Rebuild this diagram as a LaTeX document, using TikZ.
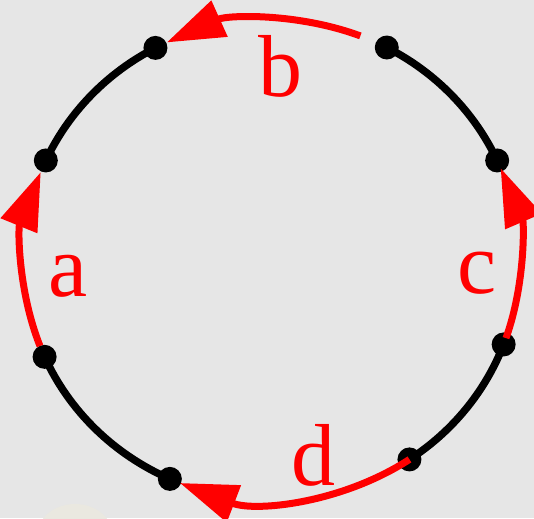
\documentclass[tikz,border=0pt]{standalone}
\usepackage{fontspec}
\setmainfont{Liberation Serif}
\usetikzlibrary{arrows.meta}
\definecolor{bg}{RGB}{230,230,230}
\definecolor{blob}{RGB}{234,232,224}
\begin{document}
\begin{tikzpicture}[x=1pt,y=1pt,
  dot/.style={circle,fill=black,inner sep=0pt,minimum size=24pt},
  blk/.style={line width=7.5pt,black},
  redarc/.style={line width=7pt,red,-{Triangle[length=58pt,width=38pt]}},
  lbl/.style={text=red,font=\fontsize{88}{88}\selectfont,anchor=base,inner sep=0pt},
  ell/.style={x radius=248,y radius=240}]
\fill[bg] (0,0) rectangle (534,518);
\begin{scope}
\clip (0,0) rectangle (534,518);
\fill[blob] (75,-18) ellipse (38 and 32);
\end{scope}
\useasboundingbox (0,0) rectangle (534,518);
\begin{scope}[shift={(271.5,258)}]
  % dot positions
  \coordinate (tl) at (117.9:248 and 240);
  \coordinate (tr) at (62.3:248 and 240);
  \coordinate (lu) at (155.5:248 and 240);
  \coordinate (ru) at (24.5:248 and 240);
  \coordinate (ll) at (203.8:248 and 240);
  \coordinate (rl) at (339.4:248 and 240);
  \coordinate (bl) at (245.8:248 and 240);
  \coordinate (br) at (303.8:248 and 240);
  % black arcs
  \draw[blk] (tl) arc[start angle=117.9,end angle=155.5,ell];
  \draw[blk] (tr) arc[start angle=62.3,end angle=24.5,ell];
  \draw[blk] (ll) arc[start angle=203.8,end angle=245.8,ell];
  \draw[blk] (rl) arc[start angle=339.4,end angle=303.8,ell];
  % dots
  \node[dot] (dtl) at (tl) {};
  \node[dot] (dtr) at (tr) {};
  \node[dot] (dlu) at (lu) {};
  \node[dot] (dru) at (ru) {};
  \node[dot] (dll) at (ll) {};
  \node[dot] (drl) at (rl) {};
  \node[dot] (dbl) at (bl) {};
  \node[dot] (dbr) at (br) {};
  % red arc start points
  \coordinate (as) at (201:248 and 240);
  \coordinate (bs) at (69:248 and 240);
  \coordinate (cs) at (341:248 and 240);
  % red arcs
  \draw[redarc] (as) arc[start angle=201,end angle=158.5,ell];
  \draw[redarc] (bs) arc[start angle=69,end angle=115,ell];
  \draw[redarc] (cs) arc[start angle=341,end angle=382.5,ell];
  \draw[redarc] (dbr.center) arc[start angle=303.8,end angle=248.3,ell];
\end{scope}
\node[lbl] (la) at (68,221) {a};
\node[lbl] (lb) at (280,421) {b};
\node[lbl] (lc) at (477,224) {c};
\node[lbl] (ld) at (313,32) {d};
\end{tikzpicture}
\end{document}
